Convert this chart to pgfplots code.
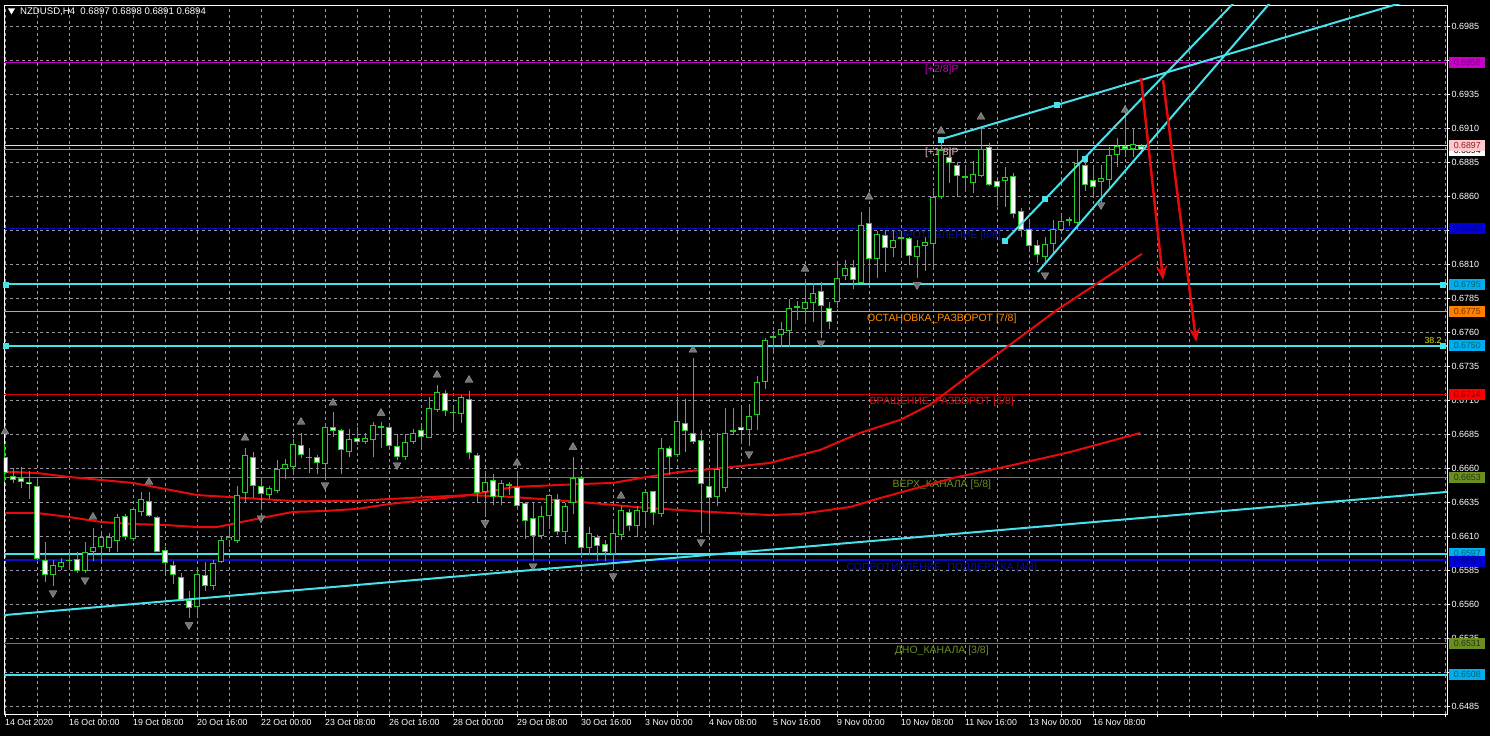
\documentclass[border=0pt]{standalone}
\usepackage{fontspec}
\setmainfont{Liberation Sans}
\usepackage{pgfplots}
\usepackage{pgfplotstable}
\pgfplotsset{compat=1.18}
\usetikzlibrary{arrows.meta}
\definecolor{cgreen}{RGB}{40,205,40}
\definecolor{ccyan}{RGB}{70,225,235}
\definecolor{cred}{RGB}{230,10,10}
\definecolor{cmag}{RGB}{200,0,200}
\definecolor{cpink}{RGB}{255,200,205}
\definecolor{cblue}{RGB}{10,10,190}
\definecolor{corange}{RGB}{255,160,0}
\definecolor{cdred}{RGB}{210,0,0}
\definecolor{colive}{RGB}{107,142,35}
\definecolor{cgrid}{RGB}{150,150,160}
\definecolor{cfrac}{RGB}{115,115,115}
\newcommand\fs[1]{\fontsize{#1}{#1}\selectfont}

\pgfplotstableread{
i o h l c
0 0.6668 0.6678 0.6650 0.6656
1 0.6654 0.6660 0.6649 0.6651
2 0.6653 0.6661 0.6645 0.6650
3 0.6650 0.6658 0.6637 0.6648
4 0.6647 0.6653 0.6592 0.6593
5 0.6592 0.6606 0.6576 0.6581
6 0.6581 0.6592 0.6573 0.6589
7 0.6587 0.6594 0.6585 0.6591
8 0.6592 0.6600 0.6585 0.6592
9 0.6593 0.6598 0.6583 0.6584
10 0.6584 0.6606 0.6583 0.6598
11 0.6598 0.6616 0.6592 0.6602
12 0.6602 0.6612 0.6592 0.6609
13 0.6601 0.6612 0.6598 0.6609
14 0.6606 0.6626 0.6598 0.6624
15 0.6625 0.6626 0.6607 0.6609
16 0.6608 0.6631 0.6606 0.6630
17 0.6628 0.6642 0.6625 0.6637
18 0.6636 0.6642 0.6624 0.6625
19 0.6624 0.6625 0.6598 0.6598
20 0.6600 0.6602 0.6583 0.6590
21 0.6589 0.6592 0.6575 0.6581
22 0.6580 0.6583 0.6562 0.6563
23 0.6563 0.6570 0.6550 0.6557
24 0.6558 0.6585 0.6550 0.6582
25 0.6581 0.6591 0.6570 0.6573
26 0.6573 0.6592 0.6570 0.6590
27 0.6591 0.6609 0.6590 0.6607
28 0.6607 0.6617 0.6602 0.6609
29 0.6606 0.6647 0.6605 0.6640
30 0.6642 0.6675 0.6634 0.6670
31 0.6668 0.6672 0.6638 0.6647
32 0.6647 0.6653 0.6629 0.6641
33 0.6640 0.6647 0.6637 0.6645
34 0.6643 0.6666 0.6642 0.6659
35 0.6659 0.6667 0.6652 0.6663
36 0.6661 0.6681 0.6655 0.6678
37 0.6677 0.6686 0.6667 0.6670
38 0.6668 0.6675 0.6656 0.6668
39 0.6668 0.6670 0.6656 0.6664
40 0.6663 0.6693 0.6653 0.6690
41 0.6690 0.6701 0.6683 0.6687
42 0.6688 0.6689 0.6656 0.6673
43 0.6672 0.6689 0.6668 0.6681
44 0.6682 0.6690 0.6677 0.6679
45 0.6679 0.6686 0.6678 0.6682
46 0.6681 0.6694 0.6668 0.6692
47 0.6691 0.6694 0.6675 0.6690
48 0.6690 0.6693 0.6674 0.6676
49 0.6676 0.6685 0.6666 0.6668
50 0.6668 0.6685 0.6666 0.6679
51 0.6679 0.6689 0.6678 0.6686
52 0.6688 0.6691 0.6674 0.6683
53 0.6682 0.6712 0.6682 0.6704
54 0.6703 0.6721 0.6701 0.6716
55 0.6715 0.6717 0.6698 0.6702
56 0.6701 0.6705 0.6688 0.6701
57 0.6700 0.6714 0.6693 0.6712
58 0.6711 0.6717 0.6667 0.6671
59 0.6670 0.6671 0.6634 0.6642
60 0.6642 0.6657 0.6624 0.6650
61 0.6651 0.6656 0.6633 0.6639
62 0.6639 0.6651 0.6633 0.6649
63 0.6647 0.6650 0.6640 0.6648
64 0.6646 0.6656 0.6629 0.6632
65 0.6634 0.6635 0.6608 0.6621
66 0.6623 0.6634 0.6592 0.6610
67 0.6610 0.6632 0.6608 0.6625
68 0.6625 0.6641 0.6615 0.6640
69 0.6637 0.6641 0.6611 0.6613
70 0.6613 0.6634 0.6604 0.6632
71 0.6634 0.6668 0.6626 0.6653
72 0.6653 0.6654 0.6594 0.6601
73 0.6601 0.6617 0.6596 0.6612
74 0.6609 0.6611 0.6592 0.6603
75 0.6604 0.6607 0.6592 0.6598
76 0.6597 0.6620 0.6585 0.6612
77 0.6611 0.6632 0.6607 0.6629
78 0.6628 0.6630 0.6614 0.6617
79 0.6617 0.6632 0.6609 0.6629
80 0.6628 0.6644 0.6617 0.6642
81 0.6643 0.6643 0.6618 0.6627
82 0.6626 0.6682 0.6624 0.6675
83 0.6675 0.6676 0.6655 0.6668
84 0.6670 0.6712 0.6668 0.6695
85 0.6693 0.6711 0.6672 0.6687
86 0.6686 0.6741 0.6678 0.6679
87 0.6681 0.6688 0.6612 0.6648
88 0.6647 0.6658 0.6614 0.6638
89 0.6639 0.6686 0.6632 0.6659
90 0.6645 0.6704 0.6642 0.6686
91 0.6687 0.6704 0.6684 0.6688
92 0.6690 0.6705 0.6678 0.6688
93 0.6688 0.6707 0.6676 0.6698
94 0.6699 0.6728 0.6688 0.6723
95 0.6723 0.6756 0.6718 0.6754
96 0.6756 0.6761 0.6744 0.6757
97 0.6758 0.6767 0.6749 0.6762
98 0.6761 0.6784 0.6749 0.6778
99 0.6778 0.6783 0.6769 0.6779
100 0.6777 0.6798 0.6767 0.6782
101 0.6781 0.6796 0.6767 0.6789
102 0.6790 0.6797 0.6756 0.6779
103 0.6778 0.6782 0.6762 0.6767
104 0.6782 0.6811 0.6778 0.6800
105 0.6801 0.6813 0.6798 0.6807
106 0.6808 0.6813 0.6792 0.6798
107 0.6796 0.6848 0.6796 0.6839
108 0.6840 0.6852 0.6796 0.6814
109 0.6814 0.6834 0.6800 0.6832
110 0.6831 0.6835 0.6804 0.6822
111 0.6822 0.6834 0.6815 0.6828
112 0.6829 0.6834 0.6815 0.6830
113 0.6829 0.6830 0.6809 0.6816
114 0.6815 0.6828 0.6800 0.6823
115 0.6823 0.6830 0.6805 0.6826
116 0.6825 0.6866 0.6806 0.6859
117 0.6859 0.6903 0.6858 0.6894
118 0.6889 0.6894 0.6870 0.6884
119 0.6883 0.6885 0.6859 0.6875
120 0.6874 0.6881 0.6863 0.6874
121 0.6870 0.6886 0.6862 0.6876
122 0.6875 0.6911 0.6874 0.6895
123 0.6896 0.6899 0.6867 0.6868
124 0.6871 0.6872 0.6853 0.6867
125 0.6871 0.6881 0.6852 0.6874
126 0.6875 0.6877 0.6844 0.6847
127 0.6849 0.6851 0.6830 0.6835
128 0.6836 0.6843 0.6821 0.6823
129 0.6824 0.6828 0.6811 0.6817
130 0.6815 0.6830 0.6811 0.6825
131 0.6825 0.6842 0.6818 0.6836
132 0.6835 0.6847 0.6833 0.6842
133 0.6843 0.6845 0.6838 0.6842
134 0.6840 0.6894 0.6835 0.6884
135 0.6883 0.6886 0.6864 0.6868
136 0.6872 0.6883 0.6861 0.6867
137 0.6870 0.6883 0.6852 0.6873
138 0.6872 0.6896 0.6866 0.6890
139 0.6890 0.6903 0.6881 0.6897
140 0.6897 0.6924 0.6889 0.6895
141 0.6895 0.6910 0.6889 0.6898
142 0.6897 0.6898 0.6891 0.6894
}\candles

\begin{document}
\begin{tikzpicture}
\fill[black] (0pt,0pt) rectangle (1490pt,736pt);
\begin{axis}[
  at={(4pt,22pt)}, anchor=south west, scale only axis,
  width=1443pt, height=709pt,
  xmin=-0.125, xmax=180.25, ymin=0.647912, ymax=0.700044,
  clip mode=individual,
  axis line style={white, line width=0.8pt},
  xtick={0,4,...,180},
  xticklabels={14 Oct 2020,,16 Oct 00:00,,19 Oct 08:00,,20 Oct 16:00,,22 Oct 00:00,,23 Oct 08:00,,26 Oct 16:00,,28 Oct 00:00,,29 Oct 08:00,,30 Oct 16:00,,3 Nov 00:00,,4 Nov 08:00,,5 Nov 16:00,,9 Nov 00:00,,10 Nov 08:00,,11 Nov 16:00,,13 Nov 00:00,,16 Nov 08:00,,,,,,,,,,,},
  ytick={0.6485,0.6510,0.6535,0.6560,0.6585,0.6610,0.6635,0.6660,0.6685,0.6710,0.6735,0.6760,0.6785,0.6810,0.6835,0.6860,0.6885,0.6910,0.6935,0.6960,0.6985},
  yticklabels={0.6485,,0.6535,0.6560,0.6585,0.6610,0.6635,0.6660,0.6685,0.6710,0.6735,0.6760,0.6785,0.6810,,0.6860,0.6885,0.6910,0.6935,,0.6985},
  scaled y ticks=false,
  xtick pos=left, ytick pos=right, yticklabel pos=right,
  tick align=outside, major tick length=3pt,
  tick style={white, line width=0.6pt},
  grid=major,
  major grid style={cgrid, dash pattern=on 3pt off 3pt, line width=0.7pt},
  xticklabel style={anchor=north west, inner sep=0pt, yshift=-2pt, text=white, font=\fs{8.8}},
  yticklabel style={anchor=west, inner sep=0pt, xshift=1.5pt, text=white, font=\fs{9}},
]
% horizontal levels
\addplot[cmag, line width=1pt] coordinates {(-1,0.6958) (181,0.6958)};
\addplot[cpink, line width=1pt] coordinates {(-1,0.6897) (181,0.6897)};
\addplot[gray!80, line width=1pt] coordinates {(-1,0.6894) (181,0.6894)};
\addplot[cblue, line width=1.4pt] coordinates {(-1,0.6836) (181,0.6836)};
\addplot[ccyan, line width=2pt] coordinates {(-1,0.6795) (181,0.6795)};
\addplot[corange, line width=1pt] coordinates {(-1,0.6775) (181,0.6775)};
\addplot[ccyan, line width=2pt] coordinates {(-1,0.6750) (181,0.6750)};
\addplot[cdred, line width=1pt] coordinates {(-1,0.6714) (181,0.6714)};
\addplot[colive, line width=1pt] coordinates {(-1,0.6653) (181,0.6653)};
\addplot[ccyan, line width=2pt] coordinates {(-1,0.6597) (181,0.6597)};
\addplot[cblue, line width=2pt] coordinates {(-1,0.6592) (181,0.6592)};
\addplot[colive, line width=1pt] coordinates {(-1,0.6531) (181,0.6531)};
\addplot[ccyan, line width=2pt] coordinates {(-1,0.6508) (181,0.6508)};
% level texts
\node[text=cmag, font=\fs{10.5}, yshift=-7.5pt] at (axis cs:117.1,0.6958) {[+2/8]P};
\node[text=cpink!80!gray, font=\fs{10.5}, yshift=-7.5pt] at (axis cs:117.1,0.6897) {[+1/8]P};
\node[text=cblue, font=\fs{10.5}, yshift=-7.5pt] at (axis cs:117.1,0.6836) {СОПРОТИВЛЕНИЕ [8/8]};
\node[text=corange!90!red, font=\fs{10.5}, yshift=-7.5pt] at (axis cs:117.1,0.6775) {ОСТАНОВКА\_РАЗВОРОТ [7/8]};
\node[text=cred, font=\fs{10.5}, yshift=-7.5pt] at (axis cs:117.1,0.6714) {ВРАЩЕНИЕ\_РАЗВОРОТ [6/8]};
\node[text=colive, font=\fs{10.5}, yshift=-7.5pt] at (axis cs:117.1,0.6653) {ВЕРХ\_КАНАЛА [5/8]};
\node[text=cblue, font=\fs{10.5}, yshift=-7pt] at (axis cs:117.1,0.6592) {СОПРОТИВЛЕНИЕ\_ПОДДЕРЖКА [4/8]};
\node[text=colive, font=\fs{10.5}, yshift=-7.5pt] at (axis cs:117.1,0.6531) {ДНО\_КАНАЛА [3/8]};
% moving averages
\addplot[cred, line width=2pt] coordinates {(0,0.66573) (4,0.66563) (8,0.66534) (12,0.66512) (16,0.6649) (20,0.66446) (24,0.66401) (28,0.66387) (32,0.66372) (36,0.66357) (40,0.66357) (44,0.66357) (48,0.66372) (58,0.66401) (63.5,0.66387) (72,0.6635) (80.25,0.66306) (88.5,0.66276) (95.6,0.66254) (99.4,0.66262) (105.6,0.66313) (109.4,0.66379) (118.5,0.66526) (126,0.66622) (133.1,0.66717) (141.9,0.66857)};
\addplot[cred, line width=2pt] coordinates {(0,0.66271) (4,0.66269) (8,0.6624) (12,0.66203) (16,0.66188) (20,0.66181) (24,0.66166) (26.5,0.66166) (29,0.66196) (32,0.66232) (36,0.66277) (40,0.66284) (44,0.66299) (48,0.66335) (58.1,0.66401) (63.5,0.6646) (71.9,0.66482) (76,0.6649) (80.25,0.66534) (84.4,0.66571) (88.5,0.66593) (95.6,0.66637) (101.9,0.66733) (106.9,0.66858) (111.9,0.66954) (115.6,0.67064) (119.75,0.67248) (125.25,0.6749) (131.5,0.67762) (137.75,0.68005) (142.1,0.68174)};
% candles: wicks
\addplot[draw=none, mark=none, forget plot,
  error bars/.cd, y dir=both, y explicit, error mark=none,
  error bar style={draw=cgreen, line width=1pt, solid}]
  table[x=i, y expr={(\thisrow{h}+\thisrow{l})/2}, y error expr={(\thisrow{h}-\thisrow{l})/2}] {\candles};
% candles: body outline
\addplot[draw=none, mark=none, forget plot,
  error bars/.cd, y dir=both, y explicit, error mark=none,
  error bar style={draw=cgreen, line width=6pt, solid}]
  table[x=i, y expr={(\thisrow{o}+\thisrow{c})/2}, y error expr={max(abs(\thisrow{c}-\thisrow{o})/2,0.00004)}] {\candles};
% bear bodies (white)
\addplot[draw=none, mark=none, forget plot,
  restrict expr to domain={\thisrow{c}-\thisrow{o}}{-1:0},
  error bars/.cd, y dir=both, y explicit, error mark=none,
  error bar style={draw=white, line width=4pt, solid}]
  table[x=i, y expr={(\thisrow{o}+\thisrow{c})/2}, y error expr={max(abs(\thisrow{c}-\thisrow{o})/2-0.0000735,0)}] {\candles};
% bull bodies (black)
\addplot[draw=none, mark=none, forget plot,
  restrict expr to domain={\thisrow{c}-\thisrow{o}}{0:1},
  error bars/.cd, y dir=both, y explicit, error mark=none,
  error bar style={draw=black, line width=4pt, solid}]
  table[x=i, y expr={(\thisrow{o}+\thisrow{c})/2}, y error expr={max(abs(\thisrow{c}-\thisrow{o})/2-0.0000735,0)}] {\candles};
% trend lines
\addplot[ccyan, line width=2pt] coordinates {(-1,0.65514) (181,0.66428)};
\addplot[ccyan, line width=2pt] coordinates {(117,0.69017) (180,0.70115)};
\addplot[ccyan, line width=2pt] coordinates {(125,0.68271) (160,0.70412)};
\addplot[ccyan, line width=2pt] coordinates {(129.1,0.68041) (160,0.70148)};
\addplot[only marks, mark=square*, mark size=2.5pt, ccyan] coordinates {(117,0.69017) (131.46,0.69269) (125,0.68271) (130,0.68578) (135,0.68872) (0.1,0.6795) (179.75,0.6795) (0.1,0.6750) (179.75,0.6750)};
% fractals
\addplot[only marks, mark=triangle*, mark size=4.5pt, mark options={fill=cfrac, draw=gray!70}] coordinates {(0,0.66867) (11,0.6624) (18,0.66497) (30,0.66821) (37,0.66938) (41,0.67078) (47,0.67004) (54,0.67284) (58,0.67247) (64,0.66637) (71,0.66754) (77,0.66394) (86,0.67468) (100,0.68063) (108,0.68593) (117,0.69078) (122,0.69181) (140,0.69232)};
\addplot[only marks, mark=triangle*, mark size=4.5pt, mark options={rotate=180, fill=cfrac, draw=gray!70}] coordinates {(6,0.65681) (10,0.65776) (23,0.65446) (32,0.66232) (40,0.66475) (49,0.66622) (60,0.66196) (66,0.65879) (76,0.65806) (87,0.66056) (93,0.66703) (102,0.67519) (114,0.67946) (130,0.68019) (137,0.68534)};
% arrows
\addplot[cred, line width=2.5pt, -{Stealth[length=14pt,width=11pt]}] coordinates {(142,0.69468) (144.75,0.67982)};
\addplot[cred, line width=2.5pt, -{Stealth[length=14pt,width=11pt]}] coordinates {(144.75,0.69453) (148.9,0.67526)};
% coordinates for price boxes
\coordinate (b1) at (axis cs:180.5,0.6958);
\coordinate (b2) at (axis cs:180.5,0.6897);
\coordinate (b3) at (axis cs:180.5,0.6894);
\coordinate (b4) at (axis cs:180.5,0.6836);
\coordinate (b5) at (axis cs:180.5,0.6795);
\coordinate (b6) at (axis cs:180.5,0.6775);
\coordinate (b7) at (axis cs:180.5,0.6750);
\coordinate (b8) at (axis cs:180.5,0.6714);
\coordinate (b9) at (axis cs:180.5,0.6653);
\coordinate (b10) at (axis cs:180.5,0.6597);
\coordinate (b11) at (axis cs:180.5,0.6592);
\coordinate (b12) at (axis cs:180.5,0.6531);
\coordinate (b13) at (axis cs:180.5,0.6508);
\coordinate (f38) at (axis cs:179.6,0.6750);
\end{axis}
\tikzset{pbox/.style={anchor=west, minimum width=36pt, minimum height=11pt, inner sep=0pt, font=\fs{8.8}}}
\node[pbox, fill=cmag, text={rgb,255:red,120;green,0;blue,130}] at (b1) {0.6958};
\node[pbox, fill=white, text=black, yshift=-1pt] at (b3) {0.6894};
\node[pbox, fill=cpink, text={rgb,255:red,140;green,30;blue,30}] at (b2) {0.6897};
\node[pbox, fill={rgb,255:red,0;green,0;blue,215}, text={rgb,255:red,0;green,0;blue,130}] at (b4) {0.6836};
\node[pbox, fill=cyan, text={rgb,255:red,0;green,100;blue,110}] at (b5) {0.6795};
\node[pbox, fill=orange, text={rgb,255:red,110;green,55;blue,0}] at (b6) {0.6775};
\node[pbox, fill=cyan, text={rgb,255:red,0;green,100;blue,110}] at (b7) {0.6750};
\node[pbox, fill=red, text={rgb,255:red,130;green,0;blue,0}] at (b8) {0.6714};
\node[pbox, fill=colive, text={rgb,255:red,35;green,55;blue,10}] at (b9) {0.6653};
\node[pbox, fill=cyan, text={rgb,255:red,0;green,100;blue,110}] at (b10) {0.6597};
\node[pbox, fill={rgb,255:red,0;green,0;blue,215}, text={rgb,255:red,0;green,0;blue,130}, yshift=-1pt] at (b11) {0.6592};
\node[pbox, fill=colive, text={rgb,255:red,35;green,55;blue,10}] at (b12) {0.6531};
\node[pbox, fill=cyan, text={rgb,255:red,0;green,100;blue,110}] at (b13) {0.6508};
\node[anchor=south east, inner sep=0pt, yshift=1.5pt, text={rgb,255:red,230;green,230;blue,0}, font=\fs{8.8}] at (f38) {38.2};
% title
\fill[white] (8pt,727.5pt) -- (15pt,727.5pt) -- (11.5pt,721.5pt) -- cycle;
\node[anchor=west, inner sep=0pt, text=white, font=\fs{9.6}] at (20pt,724pt) {NZDUSD,H4\ \ 0.6897 0.6898 0.6891 0.6894};
\end{tikzpicture}
\end{document}
